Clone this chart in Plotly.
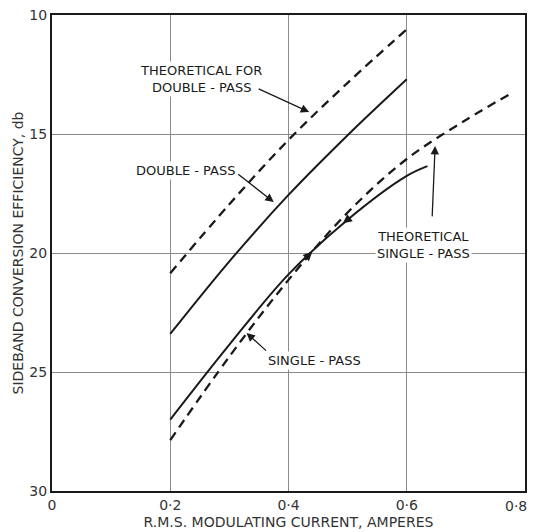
import plotly.graph_objects as go

# Data
x_theo_double = [0.2, 0.3, 0.4, 0.5, 0.6]
y_theo_double = [20.85, 17.95, 15.25, 12.85, 10.6]

x_double = [0.2, 0.3, 0.4, 0.5, 0.6]
y_double = [23.4, 20.35, 17.56, 15.05, 12.7]

x_single = [0.2, 0.3, 0.4, 0.5, 0.6, 0.635]
y_single = [27.0, 23.85, 20.9, 18.6, 16.76, 16.35]

x_theo_single = [0.2, 0.3, 0.4, 0.5, 0.6, 0.7, 0.776]
y_theo_single = [27.86, 24.35, 21.13, 18.3, 16.05, 14.41, 13.3]

x_ticks = [0, 0.2, 0.4, 0.6, 0.8]
x_tick_labels = ["0", "0·2", "0·4", "0·6", "0·8"]
y_ticks = [10, 15, 20, 25, 30]
y_tick_labels = ["10", "15", "20", "25", "30"]

FONT = "DejaVu Sans"
INK = "#1a1a1a"
TICK_COLOR = "#333333"

fig = go.Figure()

def add_line(x, y, dash):
    fig.add_trace(go.Scatter(
        x=x, y=y, mode="lines",
        line=dict(color=INK, width=2.3 if dash else 2, dash="9px,6px" if dash else "solid",
                  shape="spline", smoothing=1.0),
        showlegend=False, hoverinfo="skip"))

add_line(x_theo_double, y_theo_double, True)
add_line(x_double, y_double, False)
add_line(x_single, y_single, False)
add_line(x_theo_single, y_theo_single, True)

label_font = dict(family=FONT, size=13, color=INK)

# Labels (white background interrupts grid lines like the original)
labels = [
    (0.2515, 12.69, "THEORETICAL FOR<br>DOUBLE - PASS"),
    (0.226, 16.55, "DOUBLE - PASS"),
    (0.628, 19.66, "THEORETICAL<br>SINGLE - PASS"),
    (0.444, 24.5, "SINGLE - PASS"),
]
for lx, ly, txt in labels:
    fig.add_annotation(x=lx, y=ly, text=txt, showarrow=False, font=label_font,
                       bgcolor="white", borderpad=1, align="center")

# Arrows pointing at the curves: (head x, head y, tail offset ax, ay)
arrows = [
    (0.435, 14.08, -52, -24),
    (0.375, 17.86, -37, -29),
    (0.648, 15.5, -3, 72),
    (0.329, 23.36, 21, 19),
]
for hx, hy, ax, ay in arrows:
    fig.add_annotation(x=hx, y=hy, ax=ax, ay=ay, text="", showarrow=True,
                       arrowhead=2, arrowsize=1.3, arrowwidth=1.3, arrowcolor=INK)

# Small direction arrowheads on the single-pass curve
fig.add_annotation(x=0.492, y=18.75, ax=9, ay=-7, text="", showarrow=True,
                   arrowhead=2, arrowsize=1.2, arrowwidth=1.5, arrowcolor=INK)
fig.add_annotation(x=0.44, y=19.95, ax=-9, ay=9, text="", showarrow=True,
                   arrowhead=2, arrowsize=1.2, arrowwidth=1.5, arrowcolor=INK)

# Last x tick label is right-aligned so it stays inside the window
shown_x_labels = x_tick_labels[:-1] + [""]
fig.add_annotation(x=x_ticks[-1], y=0, xref="x", yref="paper", text=x_tick_labels[-1],
                   showarrow=False, xanchor="right", yanchor="top", xshift=4, yshift=-5,
                   font=dict(family=FONT, size=14, color=TICK_COLOR))

axis_common = dict(
    showgrid=True, gridcolor="#8a8a8a", gridwidth=1,
    showline=True, linecolor=INK, linewidth=2, mirror=True,
    ticks="", zeroline=False, automargin=False, ticklabeloverflow="allow",
    tickfont=dict(family=FONT, size=14, color=TICK_COLOR),
)

# The page body adds an 8px offset, so the figure is sized to fit the window
fig.update_layout(
    width=527, height=524,
    margin=dict(l=44, r=10, t=7, b=41),
    plot_bgcolor="white", paper_bgcolor="white",
    xaxis=dict(range=[0, 0.8], tickvals=x_ticks, ticktext=shown_x_labels,
               title=dict(text="R.M.S. MODULATING CURRENT, AMPERES",
                          font=dict(family=FONT, size=14, color=TICK_COLOR), standoff=5),
               **axis_common),
    yaxis=dict(range=[30, 10], tickvals=y_ticks, ticktext=y_tick_labels,
               title=dict(text="SIDEBAND CONVERSION EFFICIENCY, db",
                          font=dict(family=FONT, size=14, color=TICK_COLOR), standoff=2),
               **axis_common),
)

fig.write_html("out.html")
